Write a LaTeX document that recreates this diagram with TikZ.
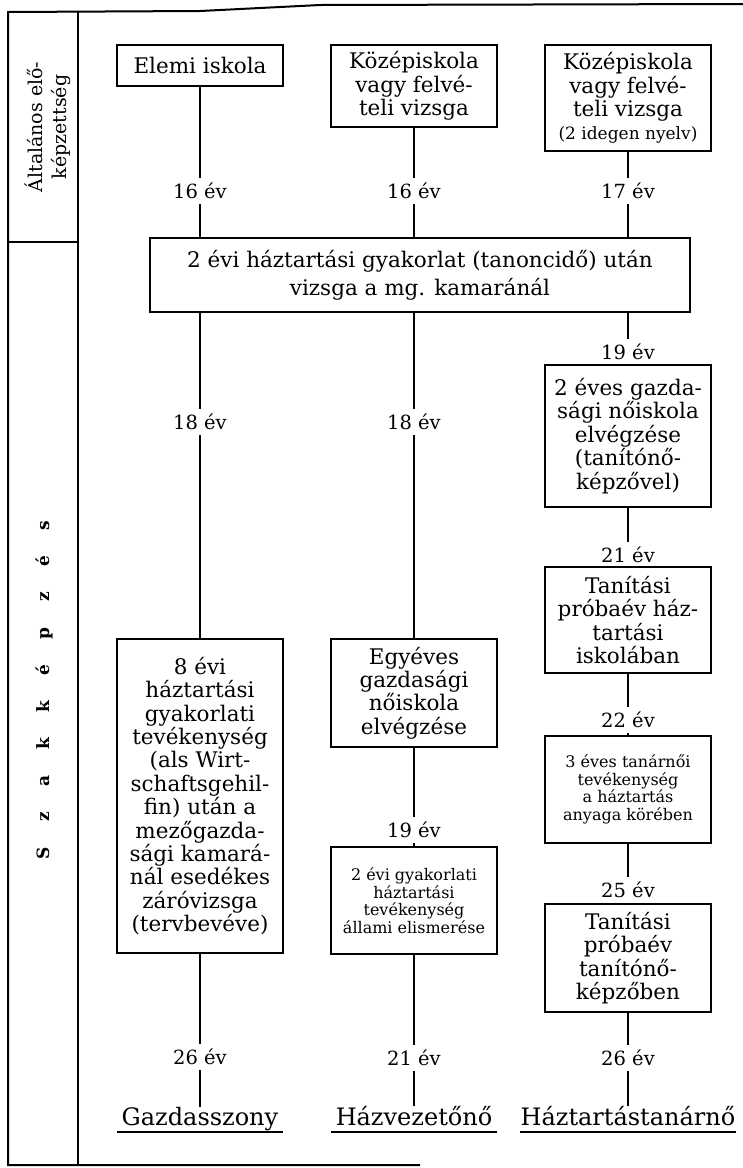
\documentclass[tikz,border=0pt]{standalone}
\usepackage{fontspec}
\setmainfont{DejaVu Serif}
\usepackage{tikz}
\usetikzlibrary{positioning,calc}
\tikzset{box/.style={draw, line width=1.6pt, align=center, inner sep=2pt, minimum width=166pt, font=\fontsize{21.5}{23.4}\selectfont}}
\tikzset{smallbox/.style={box, font=\fontsize{16}{17.5}\selectfont}}
\tikzset{age/.style={inner sep=0pt, minimum height=26pt, font=\fontsize{19.5}{23}\selectfont}}
\tikzset{title/.style={inner sep=0pt, minimum width=166pt, anchor=base, font=\fontsize{24}{26}\selectfont}}
\tikzset{conn/.style={line width=1.6pt}}

\begin{document}
\begin{tikzpicture}[x=1pt,y=-1pt]
\useasboundingbox (0,0) rectangle (743,1168);
\draw[line width=2pt] (743,4) -- (320,5) -- (200,11) -- (8,12) -- (8,1165) -- (420,1165);
\draw[line width=2pt] (78,12) -- (78,1165);
\draw[line width=2pt] (8,242) -- (78,242);

\node[rotate=90, align=center, font=\fontsize{19}{24}\selectfont] (eloke) at (48,127) {Általános elő-\\képzettség};
\node[rotate=90, font=\fontsize{17}{18}\selectfont\bfseries\addfontfeature{LetterSpace=150}] (szakk) at (44,690) {Szakképzés};

\node[box, minimum height=41pt] (elemi) at (200,65.5) {Elemi iskola};
\node[box, minimum height=82pt] (kozep) at (414,86) {Középiskola\\vagy felvé-\\teli vizsga};
\node[box, minimum height=106pt] (kozepny) at (628,98) {Középiskola\\vagy felvé-\\teli vizsga\\{\fontsize{17}{18}\selectfont (2 idegen nyelv)}};

\node[age] (ev16a) at (200,191) {16 év};
\node[age] (ev16b) at (414,191) {16 év};
\node[age] (ev17) at (628,191) {17 év};

\node[box, minimum width=540pt, minimum height=74pt] (vizsga) at (420,275) {2 évi háztartási gyakorlat (tanoncidő) után\\[4.6pt]vizsga a mg. kamaránál};

\node[age] (ev18a) at (200,422) {18 év};
\node[box, minimum height=314pt] (gyak8) at (200,796) {8 évi\\háztartási\\gyakorlati\\tevékenység\\(als Wirt-\\schaftsgehil-\\fin) után a\\mezőgazda-\\sági kamará-\\nál esedékes\\záróvizsga\\(tervbevéve)};
\node[age] (ev26a) at (200,1057) {26 év};
\node[title] (gazdasszony) at (200,1125) {Gazdasszony};

\node[age] (ev18b) at (414,422) {18 év};
\node[box, minimum height=108pt] (egyeves) at (414,693) {Egyéves\\gazdasági\\nőiskola\\elvégzése};
\node[age] (ev19b) at (414,830) {19 év};
\node[smallbox, minimum height=107pt] (allami) at (414,900.5) {2 évi gyakorlati\\háztartási\\tevékenység\\állami elismerése};
\node[age] (ev21b) at (414,1058) {21 év};
\node[title] (hazvezeto) at (414,1125) {Házvezetőnő};

\node[age] (ev19c) at (628,352) {19 év};
\node[box, minimum height=142pt] (noiskola) at (628,436) {2 éves gazda-\\sági nőiskola\\elvégzése\\(tanítónő-\\képzővel)};
\node[age] (ev21c) at (628,555) {21 év};
\node[box, minimum height=106pt] (proba1) at (628,620) {Tanítási\\próbaév ház-\\tartási\\iskolában};
\node[age] (ev22) at (628,720) {22 év};
\node[smallbox, minimum height=107pt] (tanarnoi) at (628,789.5) {3 éves tanárnői\\tevékenység\\a háztartás\\anyaga körében};
\node[age] (ev25) at (628,890) {25 év};
\node[box, minimum height=108pt] (proba2) at (628,958) {Tanítási\\próbaév\\tanítónő-\\képzőben};
\node[age] (ev26c) at (628,1058) {26 év};
\node[title] (tanarno) at (628,1125) {Háztartástanárnő};

\draw[conn] (elemi) -- (ev16a);
\draw[conn] (kozep) -- (ev16b);
\draw[conn] (kozepny) -- (ev17);
\draw[conn] (ev16a) -- (ev16a |- vizsga.north);
\draw[conn] (ev16b) -- (ev16b |- vizsga.north);
\draw[conn] (ev17) -- (ev17 |- vizsga.north);

\draw[conn] (vizsga.south -| ev18a) -- (ev18a);
\draw[conn] (ev18a) -- (gyak8);
\draw[conn] (gyak8) -- (ev26a);
\draw[conn] (ev26a) -- (gazdasszony);

\draw[conn] (vizsga.south -| ev18b) -- (ev18b);
\draw[conn] (ev18b) -- (egyeves);
\draw[conn] (egyeves) -- (ev19b);
\draw[conn] (ev19b) -- (allami);
\draw[conn] (allami) -- (ev21b);
\draw[conn] (ev21b) -- (hazvezeto);

\draw[conn] (vizsga.south -| ev19c) -- (ev19c);
\draw[conn] (ev19c) -- (noiskola);
\draw[conn] (noiskola) -- (ev21c);
\draw[conn] (ev21c) -- (proba1);
\draw[conn] (proba1) -- (ev22);
\draw[conn] (ev22) -- (tanarnoi);
\draw[conn] (tanarnoi) -- (ev25);
\draw[conn] (ev25) -- (proba2);
\draw[conn] (proba2) -- (ev26c);
\draw[conn] (ev26c) -- (tanarno);

\draw[conn] ([yshift=-7pt]gazdasszony.base west) -- ([yshift=-7pt]gazdasszony.base east);
\draw[conn] ([yshift=-7pt]hazvezeto.base west) -- ([yshift=-7pt]hazvezeto.base east);
\draw[conn] ([yshift=-7pt]tanarno.base west) -- ([yshift=-7pt]tanarno.base east);
\end{tikzpicture}
\end{document}
